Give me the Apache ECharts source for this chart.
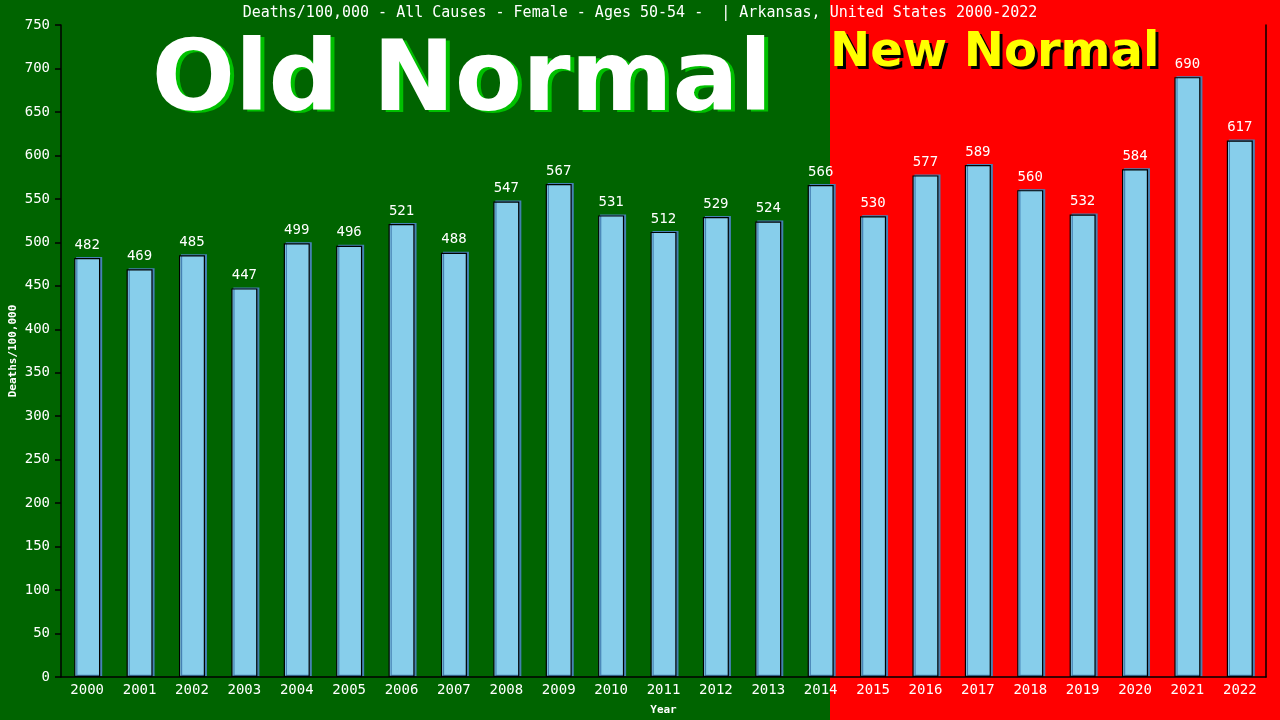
<!DOCTYPE html>
<html>
<head>
<meta charset="utf-8">
<script src="https://cdn.jsdelivr.net/npm/echarts@6/dist/echarts.min.js"></script>
<style>
html,body{margin:0;padding:0;background:#006400;}
#chart{width:1280px;height:720px;}
</style>
</head>
<body>
<div id="chart"></div>
<script>
const years = ['2000','2001','2002','2003','2004','2005','2006','2007','2008','2009','2010','2011','2012','2013','2014','2015','2016','2017','2018','2019','2020','2021','2022'];
const deathsPer100k = [482,469,485,447,499,496,521,488,547,567,531,512,529,524,566,530,577,589,560,532,584,690,617];
const yTicks = {min: 0, max: 750, interval: 50};
const titleText = 'Deaths/100,000 - All Causes - Female - Ages 50-54 -  | Arkansas, United States 2000-2022';

const chart = echarts.init(document.getElementById('chart'), null, {renderer: 'canvas'});
const mono = "'DejaVu Sans Mono', 'Liberation Mono', monospace";
const bigFont = "'DejaVu Sans', Verdana, sans-serif";

chart.setOption({
  animation: false,
  backgroundColor: '#006400',
  graphic: [
    {type: 'rect', z: -10, shape: {x: 0, y: 0, width: 830, height: 720}, style: {fill: '#006400'}},
    {type: 'rect', z: -10, shape: {x: 830, y: 0, width: 450, height: 720}, style: {fill: '#FF0000'}},
    {type: 'text', z: -5, x: 466, y: 87, style: {text: 'Old Normal', fill: '#00C000', font: "bold 98px " + bigFont, textAlign: 'center', textVerticalAlign: 'middle'}},
    {type: 'text', z: -4, x: 462, y: 85, style: {text: 'Old Normal', fill: '#FFFFFF', font: "bold 98px " + bigFont, textAlign: 'center', textVerticalAlign: 'middle'}},
    {type: 'text', z: -5, x: 833, y: 57, style: {text: 'New Normal', fill: '#000000', font: "bold 48px " + bigFont, textAlign: 'left', textVerticalAlign: 'middle'}},
    {type: 'text', z: -4, x: 830, y: 54, style: {text: 'New Normal', fill: '#FFFF00', font: "bold 48px " + bigFont, textAlign: 'left', textVerticalAlign: 'middle'}},
    {type: 'text', z: 10, x: 640, y: 13, style: {text: titleText, fill: '#FFFFFF', font: "15px " + mono, textAlign: 'center', textVerticalAlign: 'middle'}}
  ],
  grid: {left: 61, right: 14, top: 25, bottom: 43, containLabel: false, outerBoundsMode: 'none'},
  xAxis: {
    type: 'category',
    data: years,
    name: 'Year',
    nameLocation: 'middle',
    nameGap: 28,
    nameMoveOverlap: false,
    nameTextStyle: {color: '#FFFFFF', fontFamily: mono, fontWeight: 'bold', fontSize: 11},
    axisLine: {show: true, lineStyle: {color: '#000000', width: 1.5}},
    axisTick: {show: false},
    axisLabel: {color: '#FFFFFF', fontFamily: mono, fontSize: 14, margin: 6},
    splitLine: {show: false}
  },
  yAxis: [
    {
      type: 'value',
      min: yTicks.min, max: yTicks.max, interval: yTicks.interval,
      name: 'Deaths/100,000',
      nameLocation: 'middle',
      nameGap: 42,
      nameRotate: 90,
      nameMoveOverlap: false,
      nameTextStyle: {color: '#FFFFFF', fontFamily: mono, fontWeight: 'bold', fontSize: 11},
      axisLine: {show: true, lineStyle: {color: '#000000', width: 1.5}},
      axisTick: {show: true, length: 6, lineStyle: {color: '#000000', width: 1.5}},
      axisLabel: {color: '#FFFFFF', fontFamily: mono, fontSize: 14, margin: 11},
      splitLine: {show: false}
    },
    {
      type: 'value',
      position: 'right',
      min: yTicks.min, max: yTicks.max, interval: yTicks.interval,
      axisLine: {show: true, lineStyle: {color: '#000000', width: 1.5}},
      axisTick: {show: false},
      axisLabel: {show: false},
      splitLine: {show: false}
    }
  ],
  series: [{
    type: 'bar',
    data: deathsPer100k,
    barWidth: 26,
    itemStyle: {
      color: '#87CEEB',
      borderColor: '#000000',
      borderWidth: 1.2,
      shadowColor: '#4682B4',
      shadowBlur: 0,
      shadowOffsetX: 2,
      shadowOffsetY: -1
    },
    label: {
      show: true,
      position: 'top',
      distance: 6,
      color: '#FFFFFF',
      fontFamily: mono,
      fontSize: 14
    }
  }]
});
</script>
</body>
</html>
